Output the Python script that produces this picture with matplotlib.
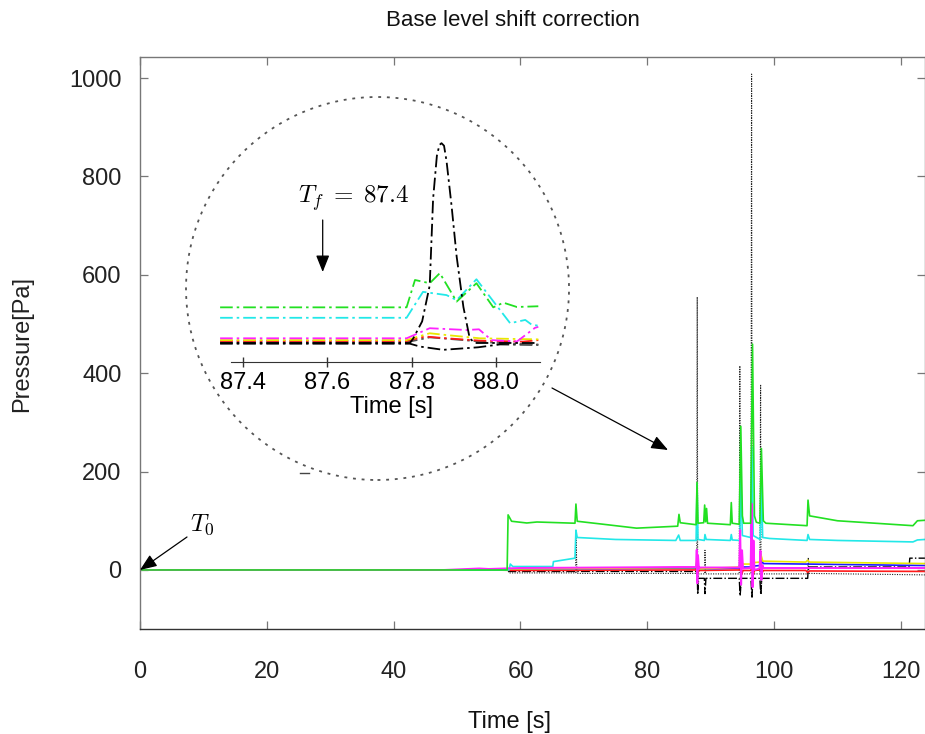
import matplotlib
matplotlib.use("Agg")
import matplotlib.pyplot as plt
from matplotlib.patches import Ellipse
from matplotlib.lines import Line2D

plt.rcParams['font.family'] = ['Liberation Sans', 'DejaVu Sans']
plt.rcParams['mathtext.fontset'] = 'cm'

# ---------------- main record: (time [s], pressure [Pa]) breakpoints ----------------
t_green = [0, 57.9, 58.05, 58.6, 61.0, 62.6, 68.6, 68.75, 68.95, 73, 78.3, 84.8, 85.0, 85.2, 87.7,
           87.85, 88.0, 88.9, 89.05, 89.2, 89.35, 89.5, 93.1, 93.25, 93.4, 94.5, 94.75, 95.0, 95.2,
           96.3, 96.6, 96.9, 97.2, 97.75, 98.0, 98.3, 98.7, 105.2, 105.35, 105.6, 110, 121.9, 122.6, 123.8]
p_green = [0, 0, 112, 99, 95.5, 97.5, 95, 134, 99, 93, 85, 89, 113, 96, 92,
           178, 95, 96, 132, 98, 125, 95, 92, 137, 95, 93, 292, 110, 95,
           95, 459, 110, 97, 95, 247, 100, 95, 90, 142, 110, 100, 90, 100, 101]

t_cyan = [0, 58.2, 58.4, 58.8, 65.1, 65.2, 68.6, 68.75, 68.95, 72, 75, 84.5, 84.95, 85.2, 87.7,
          87.85, 88.0, 89.0, 89.1, 89.3, 93.1, 93.25, 93.4, 94.6, 94.75, 95.0, 96.3, 96.5, 96.7,
          97.8, 98.0, 98.2, 99.3, 105.2, 105.35, 105.6, 110, 121.9, 122.6, 123.8]
p_cyan = [0, 0, 12, 7, 7, 17, 24, 81, 66, 64, 62, 60, 71, 60, 60,
          175, 62, 60, 72, 62, 60, 72, 61, 60, 190, 70, 66, 250, 70,
          62, 175, 66, 64, 60, 72, 62, 60, 57, 61, 62]

t_yellow = [0, 50, 58, 87.7, 87.85, 88.0, 94.6, 94.75, 95.0, 96.4, 96.55, 96.8, 97.8, 97.95, 98.2,
            105, 105.3, 105.6, 123.8]
p_yellow = [0, 0, 2, 5, 30, 2, 6, 40, 12, 12, 55, 15, 16, 30, 18,
            16, 20, 16, 13]

t_blue = [0, 50, 60, 87.7, 87.85, 88.0, 94.6, 94.75, 95.0, 96.4, 96.55, 96.8, 97.8, 98.0, 98.3,
          105, 123.8]
p_blue = [0, 0, 2, 4, 20, 2, 4, 25, 6, 6, 30, 8, 9, 20, 13,
          12, 9]

t_magenta = [0, 48, 53.5, 55, 60, 80, 85, 87.7, 87.8, 87.9, 88.0, 88.15, 88.3, 94.5, 94.65, 94.8,
             94.95, 95.1, 96.3, 96.45, 96.6, 96.75, 96.9, 97.7, 97.85, 98.0, 98.15, 98.3, 105, 123.8]
p_magenta = [0, 0, 3, 2, 4, 5.5, 6, 6, 41, -27, 30, 2, 5, 5, 81, -30,
             40, 3, 4, 135, -35, 60, 0, 3, 39, -20, 10, 4, 4, 4]

t_red = [0, 55, 60, 87.7, 87.85, 88.0, 88.2, 94.6, 94.75, 94.9, 95.1, 96.4, 96.55, 96.7, 96.9,
         97.8, 97.95, 98.1, 98.3, 105, 105.3, 105.6, 123.8]
p_red = [0, 0, -1, 0, 8, -5, -1, 0, 10, -8, -1, -1, 12, -10, -1,
         0, 8, -6, -1, -1, -5, -2, -3]

t_black_dd = [0, 58, 58.2, 87.7, 87.85, 87.95, 88.1, 89.0, 89.1, 89.25, 94.5, 94.65, 94.8, 96.35,
              96.5, 96.65, 97.75, 97.9, 98.05, 105.3, 105.4, 121.3, 121.4, 123.8]
p_black_dd = [0, 0, -3, -3, 20, -50, -17, -17, -48, -17, -17, -53, -17, -17,
              -55, -17, -17, -50, -17, -17, 6, 6, 24, 24]

t_black_dot = [0, 58, 58.2, 68.7, 68.75, 68.9, 87.8, 87.88, 87.95, 88.1, 89.05, 89.1, 89.2, 94.5,
               94.6, 94.7, 94.85, 96.35, 96.45, 96.55, 96.7, 97.75, 97.87, 97.95, 98.1, 105.3,
               105.4, 105.5, 123.8]
p_black_dot = [0, 0, -6, -6, 80, -7, -7, 555, -40, -8, -8, 40, -8, -8,
               415, -45, -8, -8, 1008, -55, -8, -8, 377, -50, -8, -8,
               25, -7, -10]

# ---------------- zoomed window around the first event ----------------
ti_green = [87.345, 87.788, 87.808, 87.843, 87.867, 87.907, 87.954, 87.994, 88.018, 88.05, 88.101]
pi_green = [99, 99, 175, 166, 194, 115, 166, 99, 112, 100, 102]

ti_cyan = [87.345, 87.788, 87.827, 87.883, 87.907, 87.954, 88.034, 88.07, 88.085, 88.101]
pi_cyan = [70, 70, 142, 133, 119, 177, 55, 64, 51, 48]

ti_magenta = [87.345, 87.788, 87.843, 87.931, 87.96, 87.99, 88.05, 88.093, 88.101]
pi_magenta = [13, 13, 41, 36, 38, 8, 4, 42, 45]

ti_yellow = [87.345, 87.788, 87.843, 87.883, 87.962, 88.101]
pi_yellow = [8, 8, 27, 22, 13, 10]

ti_red = [87.345, 87.788, 87.832, 87.883, 87.962, 88.065, 88.101]
pi_red = [5.6, 5.6, 18, 13, 6.5, 3.7, 8]

ti_gray = [87.345, 87.788, 87.843, 87.923, 88.002, 88.101]
pi_gray = [1.9, 1.9, 15.7, 8, 0, -4.6]

ti_black_peak = [87.345, 87.796, 87.804, 87.825, 87.843, 87.851, 87.86, 87.866, 87.871, 87.877,
                 87.883, 87.895, 87.907, 87.923, 87.938, 87.95, 88.101]
pi_black_peak = [0, 0, 13, 60, 160, 400, 520, 550, 555, 548, 505, 380, 240, 100, 13, 0, 0]

ti_black_low = [87.345, 87.796, 87.820, 87.875, 87.958, 88.01, 88.101]
pi_black_low = [-2, -2, -10, -19, -12, -4, -5]

xticks_main = [0, 20, 40, 60, 80, 100, 120]
yticks_main = [0, 200, 400, 600, 800, 1000]
xticks_zoom = [87.4, 87.6, 87.8, 88.0]

W, H = 925, 734
fig = plt.figure(figsize=(W / 100, H / 100), dpi=100)

def fx(px):
    return px / W

def fy(py):
    return 1 - py / H

arrow_style = dict(arrowstyle='-|>,head_length=0.6,head_width=0.24', color='black',
                   lw=0.9, mutation_scale=17, shrinkA=0, shrinkB=0)

# ---------------- main axes ----------------
ax = fig.add_axes([fx(140), fy(629), (925 - 140) / W, (629 - 57) / H])
ax.set_xlim(0, 123.8)
ax.set_ylim(-120, 1042.7)

ax.plot(t_black_dot, p_black_dot, color='#222222', lw=0.8, ls=(0, (1, 1.2)))
ax.plot(t_black_dd, p_black_dd, color='black', lw=1.0, ls='-.')
ax.plot(t_red, p_red, color='#ff1a1a', lw=1.2)
ax.plot(t_blue, p_blue, color='#1a1aff', lw=1.2)
ax.plot(t_yellow, p_yellow, color='#e8e800', lw=1.2)
ax.plot(t_cyan, p_cyan, color='#22e8e8', lw=1.2)
ax.plot(t_magenta, p_magenta, color='#ff22ff', lw=1.4)
ax.plot(t_green, p_green, color='#22e022', lw=1.2)

ax.set_xticks(xticks_main)
ax.set_yticks(yticks_main)
ax.tick_params(axis='both', which='both', direction='in', length=6, width=0.9,
               color='#777777', top=True, right=True, labelsize=17, labelcolor='#222222')
ax.tick_params(axis='x', pad=23)
ax.tick_params(axis='y', pad=13.4)
for side in ['left', 'top', 'right']:
    ax.spines[side].set_color('#777777')
    ax.spines[side].set_linewidth(1.0)
ax.spines['bottom'].set_color('#333333')
ax.spines['bottom'].set_linewidth(1.0)

fig.text(fx(513), fy(26), 'Base level shift correction', ha='center', va='baseline',
         fontsize=16, color='#111111')
fig.text(fx(509), fy(728), 'Time [s]', ha='center', va='baseline', fontsize=17, color='#111111')
fig.text(fx(22.5), fy(344), 'Pressure[Pa]', ha='center', va='center', rotation=90,
         fontsize=17, color='#222222')

# T0 marker
fig.text(fx(202), fy(525), r'$T_0$', ha='center', va='center', fontsize=18)
ax.annotate('', xy=(0, 0), xycoords='data', xytext=(187, H - 537), textcoords='figure pixels',
            arrowprops=arrow_style)

# magnifier circle and pointer
fig.add_artist(Ellipse((fx(377.5), fy(288.5)), 383 / W, 383 / H, transform=fig.transFigure,
                       fill=False, edgecolor='#555555', lw=1.3, ls=(0, (1.6, 3.2))))
fig.add_artist(Line2D([fx(300), fx(309)], [fy(473), fy(473)], transform=fig.transFigure,
                      color='#444444', lw=1.0))
ax.annotate('', xy=(668, H - 450), xycoords='figure pixels', xytext=(552, H - 388),
            textcoords='figure pixels', arrowprops=arrow_style)

# ---------------- zoom axes ----------------
axz = fig.add_axes([fx(218), fy(361.7), 322 / W, (361.7 - 134.2) / H])
axz.patch.set_visible(False)
axz.set_xlim(87.34, 88.105)
axz.set_ylim(-52, 580)
dd = (0, (7, 2.2, 1.4, 2.2))
axz.plot(ti_black_low, pi_black_low, color='black', lw=1.3, ls=dd)
axz.plot(ti_gray, pi_gray, color='#555555', lw=1.3, ls=dd)
axz.plot(ti_red, pi_red, color='#ff1a1a', lw=1.3, ls=dd)
axz.plot(ti_yellow, pi_yellow, color='#e8e800', lw=1.3, ls=dd)
axz.plot(ti_magenta, pi_magenta, color='#ff22ff', lw=1.3, ls=dd)
axz.plot(ti_cyan, pi_cyan, color='#22e8e8', lw=1.3, ls=dd)
axz.plot(ti_green, pi_green, color='#22e022', lw=1.3, ls=dd)
axz.plot(ti_black_peak, pi_black_peak, color='black', lw=1.3, ls=dd)

for side in ['left', 'top', 'right']:
    axz.spines[side].set_visible(False)
axz.spines['bottom'].set_bounds(87.372, 88.105)
axz.spines['bottom'].set_color('#333333')
axz.set_yticks([])
axz.set_xticks(xticks_zoom)
axz.set_xticklabels(['87.4', '87.6', '87.8', '88.0'])
axz.tick_params(axis='x', direction='inout', length=7.2, width=1.0, color='#333333',
                labelsize=17, pad=3.6, labelcolor='black')
fig.text(fx(392), fy(413), 'Time [s]', ha='center', va='baseline', fontsize=17, color='black')

fig.text(fx(353), fy(203), r'$T_f \;=\; 87.4$', ha='center', va='baseline', fontsize=18)
ax.annotate('', xy=(322.7, H - 272), xycoords='figure pixels', xytext=(322.7, H - 220),
            textcoords='figure pixels', arrowprops=arrow_style)

fig.savefig('out.png', dpi=100)
